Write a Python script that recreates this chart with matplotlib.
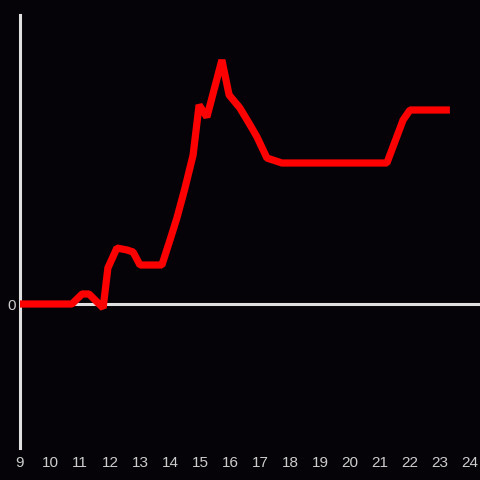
import matplotlib
matplotlib.use("Agg")
import matplotlib.pyplot as plt

hours = [9.0, 10.73, 11.07, 11.3, 11.77, 11.93, 12.23, 12.57, 12.77, 13.0, 13.73,
         14.0, 14.23, 14.5, 14.77, 14.97, 15.23, 15.73, 15.97, 16.33, 16.67, 16.9,
         17.23, 17.73, 21.23, 21.77, 22.0, 23.33]
values = [0.0, 0.0, 1.0, 1.0, -0.4, 3.6, 5.6, 5.4, 5.2, 3.9, 3.9,
          6.4, 8.6, 11.6, 14.9, 19.9, 18.7, 24.4, 20.9, 19.6, 17.9, 16.7,
          14.6, 14.1, 14.1, 18.4, 19.4, 19.4]
xticks = list(range(9, 25))

bg = "#050307"
fig = plt.figure(figsize=(4.8, 4.8), dpi=100, facecolor=bg)
ax = fig.add_axes([20/480, 1-448/480, 1-20/480, (448-15)/480])
ax.set_facecolor(bg)

ax.axhline(0, color="#e0e0e0", lw=2.2, zorder=1)
ax.plot(hours, values, color="#ff0000", lw=5.2, solid_joinstyle="bevel",
        solid_capstyle="butt", zorder=3)

ax.set_xlim(9, 9 + 460/30)
ax.set_ylim(-14.4, 28.9)
for s in ["top", "right", "bottom"]:
    ax.spines[s].set_visible(False)
ax.spines["left"].set_color("#e0e0e0")
ax.spines["left"].set_linewidth(2.2)

ax.set_xticks(xticks)
ax.set_xticklabels([str(t) for t in xticks])
ax.set_yticks([0])
ax.set_yticklabels(["0"])
ax.tick_params(axis="both", length=0, colors="#cccccc", labelsize=11)
ax.tick_params(axis="x", pad=6)
ax.tick_params(axis="y", pad=3)
for lbl in ax.get_xticklabels() + ax.get_yticklabels():
    lbl.set_family("Liberation Sans")

fig.savefig("out.png", dpi=100, facecolor=bg)
